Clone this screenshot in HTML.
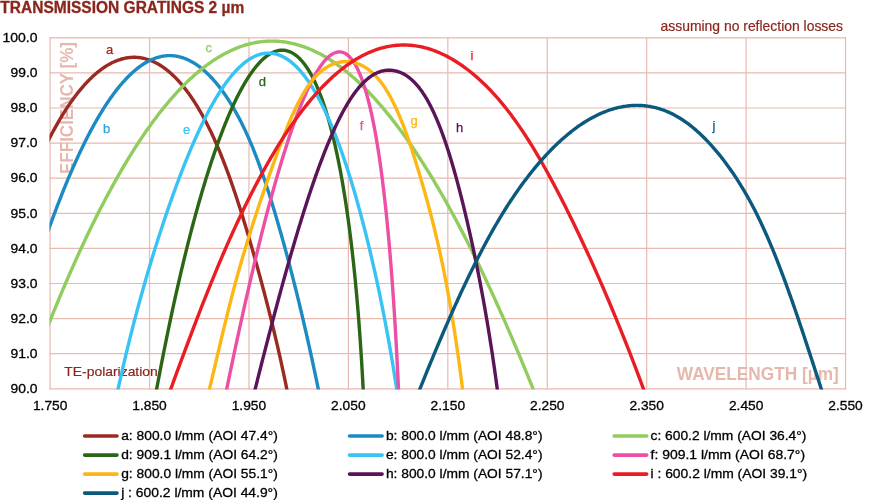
<!DOCTYPE html>
<html lang="en"><head><meta charset="utf-8"><title>Transmission Gratings 2 µm</title>
<style>
html,body{margin:0;padding:0;background:#fff;}
body{width:878px;height:500px;overflow:hidden;font-family:"Liberation Sans",sans-serif;}
svg{display:block;}
text{font-family:"Liberation Sans",sans-serif;}
.ax{font-size:13.3px;fill:#000;stroke:#000;stroke-width:0.3px;}
.lg{font-size:13.2px;fill:#000;stroke:#000;stroke-width:0.3px;}
.note{font-size:14.2px;fill:#8B271D;stroke:#8B271D;stroke-width:0.2px;}
.cl{font-size:13px;stroke-width:0.25px;}
.wm{font-size:17.5px;font-weight:bold;fill:#E6B8AD;}
.title{font-size:15.6px;font-weight:bold;fill:#8B261C;stroke:#8B261C;stroke-width:0.3px;}
.grid line{stroke:#E7BAB0;stroke-width:1.2;stroke-linecap:square;}
.curves path{fill:none;stroke-width:3.4;stroke-linecap:butt;stroke-linejoin:round;}
.sw line{stroke-width:3.6;stroke-linecap:round;}
</style></head><body>
<svg width="878" height="500" viewBox="0 0 878 500">
<rect width="878" height="500" fill="#fff"/>
<defs><clipPath id="plot"><rect x="49.50" y="35.80" width="796.64" height="353.60"/></clipPath></defs>
<text class="title" x="0.3" y="13.3" textLength="244" lengthAdjust="spacingAndGlyphs">TRANSMISSION GRATINGS 2 µm</text>
<g class="grid">
<line x1="50.10" y1="37.80" x2="50.10" y2="388.80"/>
<line x1="149.53" y1="37.80" x2="149.53" y2="388.80"/>
<line x1="248.96" y1="37.80" x2="248.96" y2="388.80"/>
<line x1="348.39" y1="37.80" x2="348.39" y2="388.80"/>
<line x1="447.82" y1="37.80" x2="447.82" y2="388.80"/>
<line x1="547.25" y1="37.80" x2="547.25" y2="388.80"/>
<line x1="646.68" y1="37.80" x2="646.68" y2="388.80"/>
<line x1="746.11" y1="37.80" x2="746.11" y2="388.80"/>
<line x1="845.54" y1="37.80" x2="845.54" y2="388.80"/>
<line x1="50.10" y1="37.80" x2="845.54" y2="37.80"/>
<line x1="50.10" y1="72.90" x2="845.54" y2="72.90"/>
<line x1="50.10" y1="108.00" x2="845.54" y2="108.00"/>
<line x1="50.10" y1="143.10" x2="845.54" y2="143.10"/>
<line x1="50.10" y1="178.20" x2="845.54" y2="178.20"/>
<line x1="50.10" y1="213.30" x2="845.54" y2="213.30"/>
<line x1="50.10" y1="248.40" x2="845.54" y2="248.40"/>
<line x1="50.10" y1="283.50" x2="845.54" y2="283.50"/>
<line x1="50.10" y1="318.60" x2="845.54" y2="318.60"/>
<line x1="50.10" y1="353.70" x2="845.54" y2="353.70"/>
<line x1="50.10" y1="388.80" x2="845.54" y2="388.80"/>
</g>
<text class="wm" transform="translate(73.2,174) rotate(-90)" textLength="132" lengthAdjust="spacingAndGlyphs">EFFICIENCY [%]</text>
<text class="wm" x="676.8" y="379.8" textLength="162" lengthAdjust="spacingAndGlyphs">WAVELENGTH [µm]</text>
<text class="note" x="660.5" y="30.8" textLength="182.5" lengthAdjust="spacingAndGlyphs">assuming no reflection losses</text>
<text class="note" style="font-size:13.4px" x="64.3" y="375.8" textLength="93.5" lengthAdjust="spacingAndGlyphs">TE-polarization</text>
<g class="curves" clip-path="url(#plot)">
<path stroke="#9B2A22" d="M45.46,145.85 L50.12,137.00 L50.95,135.39 L51.79,133.79 L52.63,132.21 L53.47,130.65 L54.32,129.10 L55.16,127.57 L56.00,126.06 L56.84,124.56 L57.69,123.08 L58.53,121.62 L59.38,120.17 L60.22,118.74 L61.07,117.33 L61.91,115.93 L62.76,114.55 L63.61,113.18 L64.46,111.83 L65.30,110.50 L66.15,109.19 L67.00,107.89 L67.85,106.60 L68.70,105.34 L69.55,104.09 L70.41,102.86 L71.26,101.64 L72.11,100.44 L72.96,99.25 L73.82,98.09 L74.67,96.94 L75.52,95.80 L76.38,94.68 L77.23,93.58 L78.08,92.50 L78.94,91.43 L79.79,90.38 L80.65,89.34 L81.51,88.32 L82.36,87.32 L83.22,86.33 L84.07,85.36 L84.93,84.41 L85.79,83.47 L86.65,82.55 L87.50,81.65 L88.36,80.76 L89.22,79.89 L90.08,79.04 L90.93,78.20 L91.79,77.38 L92.65,76.57 L93.51,75.78 L94.37,75.01 L95.23,74.26 L96.08,73.52 L96.94,72.79 L97.80,72.09 L98.66,71.40 L99.52,70.72 L100.38,70.07 L101.24,69.43 L102.09,68.80 L102.95,68.20 L103.81,67.61 L104.67,67.03 L105.53,66.47 L106.39,65.93 L107.24,65.41 L108.10,64.90 L108.96,64.41 L109.82,63.93 L110.68,63.47 L111.53,63.03 L112.39,62.60 L113.25,62.19 L114.11,61.80 L114.96,61.42 L115.82,61.06 L116.67,60.72 L117.53,60.39 L118.39,60.08 L119.24,59.79 L120.10,59.51 L120.95,59.25 L121.81,59.00 L122.66,58.77 L123.52,58.56 L124.37,58.37 L125.22,58.19 L126.08,58.02 L126.93,57.88 L127.78,57.75 L128.63,57.63 L129.49,57.54 L130.34,57.46 L131.19,57.39 L132.04,57.35 L132.89,57.32 L133.74,57.30 L134.59,57.30 L135.43,57.32 L136.28,57.36 L137.13,57.41 L137.98,57.48 L138.82,57.56 L139.67,57.66 L140.51,57.78 L141.36,57.91 L142.20,58.06 L143.05,58.23 L143.89,58.41 L144.73,58.61 L145.57,58.83 L146.41,59.06 L147.25,59.31 L148.09,59.58 L148.93,59.86 L149.77,60.16 L150.61,60.47 L151.44,60.80 L152.28,61.15 L153.11,61.52 L153.95,61.90 L154.78,62.29 L155.62,62.71 L156.45,63.14 L157.28,63.59 L158.11,64.05 L158.94,64.53 L159.77,65.03 L160.60,65.54 L161.42,66.07 L162.25,66.61 L163.07,67.17 L163.90,67.75 L164.72,68.35 L165.55,68.96 L166.37,69.59 L167.19,70.23 L168.01,70.89 L168.83,71.57 L169.64,72.26 L170.46,72.98 L171.28,73.70 L172.09,74.45 L172.91,75.21 L173.72,75.98 L174.53,76.77 L175.34,77.58 L176.15,78.41 L176.96,79.25 L177.77,80.11 L178.57,80.98 L179.38,81.88 L180.18,82.78 L180.98,83.71 L181.78,84.65 L182.59,85.61 L183.38,86.58 L184.18,87.57 L184.98,88.58 L185.77,89.60 L186.57,90.64 L187.36,91.70 L188.15,92.77 L188.94,93.86 L189.73,94.97 L190.52,96.09 L191.31,97.23 L192.09,98.38 L192.88,99.55 L193.66,100.74 L194.44,101.95 L195.22,103.17 L196.00,104.40 L196.78,105.66 L197.55,106.93 L198.33,108.22 L199.10,109.52 L199.87,110.84 L200.64,112.17 L201.41,113.53 L202.18,114.90 L202.94,116.28 L203.71,117.68 L204.47,119.10 L205.23,120.54 L205.99,121.99 L206.75,123.46 L207.50,124.94 L208.26,126.44 L209.01,127.96 L209.76,129.49 L210.51,131.05 L211.26,132.61 L212.01,134.20 L212.75,135.80 L213.49,137.41 L214.24,139.04 L214.98,140.69 L215.71,142.36 L216.45,144.04 L217.19,145.74 L217.92,147.46 L218.65,149.19 L219.38,150.94 L220.11,152.70 L220.84,154.48 L221.56,156.28 L222.29,158.09 L223.01,159.92 L223.73,161.77 L224.45,163.63 L225.17,165.51 L225.89,167.41 L226.61,169.32 L227.33,171.25 L228.04,173.20 L228.76,175.16 L229.47,177.14 L230.19,179.13 L230.90,181.14 L231.61,183.17 L232.32,185.22 L233.04,187.28 L233.75,189.36 L234.46,191.45 L235.17,193.56 L235.88,195.69 L236.59,197.83 L237.30,199.99 L238.01,202.17 L238.72,204.36 L239.43,206.57 L240.14,208.79 L240.85,211.04 L241.56,213.30 L242.27,215.57 L242.98,217.86 L243.69,220.17 L244.40,222.49 L245.11,224.84 L245.83,227.19 L246.54,229.57 L247.25,231.96 L247.97,234.36 L248.68,236.79 L249.40,239.23 L250.12,241.68 L250.83,244.16 L251.55,246.65 L252.27,249.15 L252.99,251.67 L253.71,254.21 L254.44,256.77 L255.16,259.34 L255.89,261.93 L256.61,264.53 L257.34,267.15 L258.07,269.79 L258.80,272.45 L259.53,275.12 L260.27,277.80 L261.00,280.51 L261.73,283.23 L262.47,285.96 L263.20,288.72 L263.94,291.48 L264.67,294.27 L265.41,297.07 L266.14,299.89 L266.88,302.73 L267.61,305.58 L268.34,308.45 L269.07,311.33 L269.81,314.23 L270.54,317.15 L271.27,320.08 L271.99,323.03 L272.72,326.00 L273.45,328.98 L274.17,331.98 L274.89,335.00 L275.61,338.03 L276.33,341.08 L277.04,344.15 L277.76,347.23 L278.47,350.33 L279.17,353.45 L279.88,356.58 L280.58,359.73 L281.28,362.89 L281.97,366.07 L282.67,369.27 L283.36,372.48 L284.04,375.71 L284.72,378.96 L285.40,382.22 L286.07,385.50 L286.74,388.80 L288.75,398.60"/>
<path stroke="#1C8AC3" d="M46.74,234.59 L50.17,225.20 L51.15,222.49 L52.13,219.79 L53.11,217.12 L54.09,214.48 L55.07,211.85 L56.05,209.25 L57.03,206.66 L58.01,204.10 L58.99,201.57 L59.97,199.05 L60.95,196.55 L61.93,194.08 L62.91,191.63 L63.89,189.20 L64.86,186.79 L65.84,184.41 L66.82,182.04 L67.79,179.70 L68.77,177.38 L69.74,175.09 L70.72,172.81 L71.69,170.56 L72.67,168.32 L73.64,166.11 L74.62,163.93 L75.59,161.76 L76.56,159.61 L77.53,157.49 L78.51,155.39 L79.48,153.31 L80.45,151.25 L81.42,149.22 L82.39,147.21 L83.36,145.21 L84.33,143.24 L85.30,141.30 L86.27,139.37 L87.24,137.47 L88.21,135.59 L89.18,133.73 L90.15,131.89 L91.11,130.07 L92.08,128.28 L93.05,126.50 L94.01,124.75 L94.98,123.02 L95.95,121.32 L96.91,119.63 L97.88,117.97 L98.84,116.33 L99.80,114.71 L100.77,113.11 L101.73,111.54 L102.70,109.98 L103.66,108.45 L104.62,106.94 L105.58,105.45 L106.54,103.99 L107.51,102.54 L108.47,101.12 L109.43,99.72 L110.39,98.34 L111.35,96.98 L112.31,95.65 L113.27,94.34 L114.23,93.04 L115.18,91.77 L116.14,90.53 L117.10,89.30 L118.06,88.10 L119.01,86.92 L119.97,85.76 L120.93,84.62 L121.88,83.50 L122.84,82.41 L123.79,81.34 L124.75,80.29 L125.70,79.26 L126.66,78.25 L127.61,77.27 L128.56,76.30 L129.52,75.36 L130.47,74.44 L131.42,73.55 L132.37,72.67 L133.33,71.82 L134.28,70.99 L135.23,70.18 L136.18,69.39 L137.13,68.62 L138.08,67.88 L139.03,67.16 L139.98,66.46 L140.93,65.78 L141.88,65.12 L142.82,64.49 L143.77,63.87 L144.72,63.28 L145.67,62.71 L146.61,62.17 L147.56,61.64 L148.50,61.14 L149.45,60.66 L150.40,60.20 L151.34,59.76 L152.28,59.34 L153.23,58.95 L154.17,58.58 L155.12,58.23 L156.06,57.90 L157.00,57.59 L157.94,57.31 L158.89,57.05 L159.83,56.81 L160.77,56.59 L161.71,56.39 L162.65,56.22 L163.59,56.06 L164.53,55.93 L165.47,55.82 L166.41,55.73 L167.35,55.67 L168.29,55.62 L169.22,55.60 L170.16,55.60 L171.10,55.62 L172.04,55.67 L172.97,55.73 L173.91,55.82 L174.85,55.93 L175.78,56.06 L176.72,56.22 L177.65,56.39 L178.59,56.59 L179.52,56.81 L180.45,57.05 L181.39,57.31 L182.32,57.59 L183.25,57.90 L184.19,58.23 L185.12,58.58 L186.05,58.95 L186.98,59.35 L187.91,59.76 L188.84,60.20 L189.77,60.66 L190.70,61.14 L191.63,61.64 L192.56,62.17 L193.49,62.72 L194.42,63.29 L195.35,63.88 L196.27,64.49 L197.20,65.12 L198.13,65.78 L199.06,66.46 L199.98,67.16 L200.91,67.88 L201.83,68.63 L202.76,69.39 L203.68,70.18 L204.61,70.99 L205.53,71.82 L206.46,72.67 L207.38,73.55 L208.30,74.45 L209.23,75.37 L210.15,76.31 L211.07,77.27 L211.99,78.26 L212.91,79.26 L213.83,80.29 L214.75,81.34 L215.67,82.41 L216.58,83.51 L217.50,84.62 L218.41,85.76 L219.33,86.92 L220.24,88.10 L221.15,89.31 L222.06,90.53 L222.97,91.78 L223.87,93.05 L224.78,94.34 L225.68,95.65 L226.58,96.99 L227.48,98.35 L228.38,99.72 L229.27,101.13 L230.17,102.55 L231.06,103.99 L231.95,105.46 L232.84,106.95 L233.72,108.46 L234.60,109.99 L235.48,111.54 L236.36,113.12 L237.24,114.72 L238.11,116.34 L238.98,117.98 L239.85,119.64 L240.71,121.33 L241.57,123.03 L242.43,124.76 L243.29,126.51 L244.14,128.28 L244.99,130.08 L245.84,131.90 L246.68,133.73 L247.52,135.59 L248.36,137.48 L249.19,139.38 L250.02,141.31 L250.85,143.25 L251.67,145.22 L252.49,147.21 L253.31,149.23 L254.12,151.26 L254.93,153.32 L255.74,155.40 L256.54,157.50 L257.34,159.62 L258.14,161.77 L258.94,163.93 L259.73,166.12 L260.53,168.33 L261.32,170.57 L262.11,172.82 L262.90,175.10 L263.68,177.39 L264.47,179.71 L265.25,182.06 L266.04,184.42 L266.82,186.80 L267.60,189.21 L268.38,191.64 L269.16,194.09 L269.94,196.57 L270.73,199.06 L271.51,201.58 L272.29,204.12 L273.07,206.68 L273.85,209.26 L274.64,211.86 L275.42,214.49 L276.20,217.14 L276.99,219.81 L277.78,222.50 L278.57,225.21 L279.35,227.95 L280.14,230.71 L280.93,233.48 L281.72,236.29 L282.52,239.11 L283.31,241.95 L284.10,244.82 L284.89,247.71 L285.69,250.62 L286.48,253.55 L287.28,256.51 L288.07,259.48 L288.87,262.48 L289.66,265.50 L290.46,268.54 L291.25,271.61 L292.05,274.69 L292.85,277.80 L293.64,280.93 L294.44,284.08 L295.24,287.26 L296.04,290.45 L296.83,293.67 L297.63,296.91 L298.43,300.17 L299.22,303.45 L300.02,306.75 L300.82,310.08 L301.62,313.43 L302.41,316.80 L303.21,320.19 L304.00,323.61 L304.80,327.04 L305.59,330.50 L306.39,333.98 L307.18,337.48 L307.98,341.00 L308.77,344.55 L309.56,348.12 L310.35,351.71 L311.15,355.32 L311.94,358.95 L312.73,362.60 L313.52,366.28 L314.30,369.98 L315.09,373.70 L315.88,377.44 L316.67,381.21 L317.45,384.99 L318.23,388.80 L320.26,398.59"/>
<path stroke="#90CC5E" d="M46.87,328.57 L50.64,319.30 L52.22,315.37 L53.80,311.47 L55.38,307.60 L56.97,303.76 L58.55,299.94 L60.13,296.16 L61.71,292.40 L63.29,288.66 L64.87,284.96 L66.45,281.28 L68.03,277.64 L69.60,274.02 L71.18,270.42 L72.76,266.86 L74.33,263.32 L75.91,259.81 L77.48,256.33 L79.06,252.88 L80.63,249.46 L82.21,246.06 L83.78,242.69 L85.35,239.35 L86.92,236.04 L88.49,232.75 L90.07,229.49 L91.64,226.26 L93.21,223.06 L94.78,219.89 L96.35,216.74 L97.92,213.63 L99.49,210.54 L101.05,207.47 L102.62,204.44 L104.19,201.43 L105.76,198.46 L107.33,195.51 L108.89,192.58 L110.46,189.69 L112.03,186.82 L113.59,183.98 L115.16,181.17 L116.72,178.39 L118.29,175.64 L119.85,172.91 L121.42,170.21 L122.98,167.54 L124.55,164.90 L126.11,162.28 L127.67,159.69 L129.24,157.14 L130.80,154.60 L132.36,152.10 L133.92,149.62 L135.49,147.18 L137.05,144.76 L138.61,142.37 L140.17,140.00 L141.74,137.67 L143.30,135.36 L144.86,133.08 L146.42,130.83 L147.98,128.60 L149.54,126.40 L151.10,124.24 L152.67,122.10 L154.23,119.98 L155.79,117.90 L157.35,115.84 L158.91,113.81 L160.47,111.81 L162.03,109.84 L163.59,107.89 L165.15,105.98 L166.71,104.09 L168.27,102.23 L169.83,100.39 L171.39,98.59 L172.95,96.81 L174.51,95.06 L176.08,93.34 L177.64,91.64 L179.20,89.98 L180.76,88.34 L182.32,86.73 L183.88,85.15 L185.44,83.59 L187.00,82.07 L188.56,80.57 L190.12,79.10 L191.68,77.65 L193.25,76.24 L194.81,74.85 L196.37,73.49 L197.93,72.16 L199.49,70.86 L201.05,69.59 L202.62,68.34 L204.18,67.12 L205.74,65.93 L207.30,64.76 L208.87,63.63 L210.43,62.52 L211.99,61.44 L213.56,60.39 L215.12,59.37 L216.69,58.37 L218.25,57.40 L219.81,56.46 L221.38,55.55 L222.94,54.67 L224.51,53.81 L226.08,52.98 L227.64,52.18 L229.21,51.41 L230.77,50.66 L232.34,49.95 L233.91,49.26 L235.48,48.60 L237.04,47.96 L238.61,47.36 L240.18,46.78 L241.75,46.23 L243.32,45.71 L244.89,45.22 L246.46,44.75 L248.03,44.31 L249.60,43.90 L251.17,43.52 L252.74,43.17 L254.32,42.84 L255.89,42.54 L257.46,42.27 L259.04,42.03 L260.61,41.82 L262.19,41.63 L263.76,41.47 L265.34,41.34 L266.91,41.24 L268.49,41.17 L270.07,41.12 L271.64,41.10 L273.22,41.11 L274.80,41.15 L276.38,41.21 L277.96,41.30 L279.54,41.43 L281.12,41.57 L282.70,41.75 L284.28,41.95 L285.87,42.19 L287.45,42.45 L289.03,42.74 L290.62,43.05 L292.20,43.40 L293.79,43.77 L295.38,44.17 L296.96,44.60 L298.55,45.05 L300.14,45.54 L301.73,46.05 L303.32,46.59 L304.91,47.15 L306.50,47.75 L308.09,48.37 L309.69,49.02 L311.28,49.70 L312.87,50.41 L314.47,51.15 L316.06,51.91 L317.66,52.70 L319.26,53.52 L320.86,54.36 L322.46,55.24 L324.05,56.14 L325.66,57.07 L327.26,58.03 L328.86,59.02 L330.46,60.03 L332.07,61.07 L333.67,62.14 L335.28,63.24 L336.88,64.37 L338.49,65.52 L340.10,66.70 L341.71,67.91 L343.32,69.15 L344.93,70.41 L346.54,71.71 L348.15,73.03 L349.76,74.38 L351.38,75.75 L352.99,77.16 L354.61,78.59 L356.23,80.05 L357.85,81.54 L359.46,83.06 L361.09,84.60 L362.71,86.18 L364.33,87.78 L365.95,89.40 L367.58,91.06 L369.20,92.74 L370.83,94.46 L372.46,96.20 L374.08,97.96 L375.71,99.76 L377.34,101.58 L378.98,103.44 L380.61,105.32 L382.24,107.22 L383.88,109.16 L385.51,111.12 L387.15,113.11 L388.79,115.13 L390.43,117.18 L392.07,119.25 L393.71,121.36 L395.35,123.49 L397.00,125.65 L398.64,127.83 L400.29,130.05 L401.94,132.29 L403.58,134.56 L405.23,136.86 L406.89,139.19 L408.54,141.54 L410.19,143.92 L411.85,146.33 L413.50,148.77 L415.16,151.24 L416.82,153.73 L418.48,156.25 L420.14,158.80 L421.80,161.38 L423.47,163.98 L425.13,166.62 L426.80,169.28 L428.47,171.97 L430.14,174.68 L431.81,177.43 L433.48,180.20 L435.15,183.00 L436.82,185.83 L438.50,188.69 L440.18,191.57 L441.86,194.49 L443.54,197.43 L445.22,200.39 L446.90,203.39 L448.59,206.42 L450.27,209.47 L451.96,212.55 L453.65,215.66 L455.34,218.79 L457.03,221.96 L458.72,225.15 L460.42,228.37 L462.11,231.61 L463.81,234.89 L465.51,238.19 L467.21,241.52 L468.91,244.88 L470.61,248.27 L472.32,251.69 L474.03,255.13 L475.73,258.60 L477.44,262.10 L479.16,265.62 L480.87,269.18 L482.58,272.76 L484.30,276.37 L486.02,280.01 L487.74,283.68 L489.46,287.37 L491.18,291.09 L492.90,294.84 L494.63,298.62 L496.36,302.43 L498.09,306.26 L499.82,310.12 L501.55,314.01 L503.28,317.93 L505.02,321.88 L506.76,325.85 L508.50,329.85 L510.24,333.88 L511.98,337.94 L513.72,342.02 L515.47,346.13 L517.22,350.28 L518.97,354.44 L520.72,358.64 L522.47,362.87 L524.23,367.12 L525.98,371.40 L527.74,375.71 L529.50,380.04 L531.27,384.41 L533.03,388.80 L536.77,398.07"/>
<path stroke="#2B6516" d="M154.84,398.63 L156.70,388.80 L157.54,384.29 L158.39,379.80 L159.24,375.35 L160.08,370.92 L160.93,366.53 L161.78,362.17 L162.63,357.83 L163.48,353.53 L164.34,349.26 L165.19,345.02 L166.04,340.81 L166.90,336.62 L167.75,332.47 L168.60,328.35 L169.46,324.26 L170.32,320.20 L171.17,316.17 L172.03,312.17 L172.89,308.20 L173.74,304.26 L174.60,300.36 L175.46,296.48 L176.32,292.63 L177.18,288.81 L178.04,285.02 L178.90,281.27 L179.76,277.54 L180.62,273.84 L181.49,270.18 L182.35,266.54 L183.21,262.94 L184.07,259.36 L184.93,255.82 L185.80,252.30 L186.66,248.82 L187.52,245.36 L188.39,241.94 L189.25,238.55 L190.11,235.18 L190.98,231.85 L191.84,228.55 L192.71,225.27 L193.57,222.03 L194.43,218.82 L195.30,215.64 L196.16,212.49 L197.03,209.37 L197.89,206.28 L198.75,203.22 L199.62,200.19 L200.48,197.19 L201.34,194.22 L202.21,191.28 L203.07,188.37 L203.94,185.49 L204.80,182.64 L205.66,179.82 L206.52,177.04 L207.39,174.28 L208.25,171.55 L209.11,168.86 L209.97,166.19 L210.83,163.55 L211.69,160.95 L212.56,158.37 L213.42,155.83 L214.28,153.31 L215.14,150.83 L215.99,148.37 L216.85,145.95 L217.71,143.56 L218.57,141.19 L219.43,138.86 L220.28,136.56 L221.14,134.28 L222.00,132.04 L222.85,129.83 L223.71,127.65 L224.56,125.50 L225.41,123.38 L226.27,121.29 L227.12,119.23 L227.97,117.20 L228.82,115.20 L229.67,113.23 L230.52,111.29 L231.37,109.38 L232.22,107.50 L233.06,105.65 L233.91,103.83 L234.76,102.05 L235.60,100.29 L236.44,98.56 L237.29,96.86 L238.13,95.20 L238.97,93.56 L239.81,91.96 L240.65,90.38 L241.49,88.84 L242.33,87.32 L243.16,85.84 L244.00,84.38 L244.83,82.96 L245.67,81.56 L246.50,80.20 L247.33,78.87 L248.16,77.56 L248.99,76.29 L249.82,75.05 L250.64,73.84 L251.47,72.66 L252.29,71.50 L253.12,70.38 L253.94,69.29 L254.76,68.23 L255.58,67.20 L256.40,66.20 L257.21,65.23 L258.03,64.29 L258.84,63.38 L259.65,62.51 L260.47,61.66 L261.28,60.84 L262.08,60.05 L262.89,59.29 L263.70,58.57 L264.50,57.87 L265.30,57.20 L266.11,56.57 L266.91,55.96 L267.70,55.38 L268.50,54.84 L269.30,54.32 L270.09,53.84 L270.88,53.39 L271.67,52.96 L272.46,52.57 L273.25,52.20 L274.03,51.87 L274.82,51.57 L275.60,51.29 L276.38,51.05 L277.16,50.84 L277.93,50.66 L278.71,50.51 L279.48,50.39 L280.25,50.29 L281.02,50.23 L281.79,50.20 L282.55,50.20 L283.32,50.23 L284.08,50.29 L284.84,50.39 L285.60,50.51 L286.35,50.66 L287.11,50.84 L287.86,51.05 L288.61,51.29 L289.36,51.57 L290.10,51.87 L290.85,52.20 L291.59,52.57 L292.33,52.96 L293.06,53.39 L293.80,53.84 L294.53,54.32 L295.26,54.84 L295.99,55.38 L296.71,55.96 L297.44,56.57 L298.16,57.20 L298.88,57.87 L299.59,58.57 L300.31,59.29 L301.02,60.05 L301.73,60.84 L302.44,61.66 L303.14,62.51 L303.84,63.38 L304.54,64.29 L305.24,65.23 L305.93,66.20 L306.62,67.20 L307.31,68.23 L308.00,69.29 L308.68,70.38 L309.36,71.50 L310.04,72.66 L310.71,73.84 L311.38,75.05 L312.05,76.29 L312.72,77.56 L313.38,78.87 L314.05,80.20 L314.70,81.56 L315.36,82.96 L316.01,84.38 L316.66,85.84 L317.31,87.32 L317.95,88.84 L318.59,90.38 L319.23,91.96 L319.86,93.56 L320.49,95.20 L321.12,96.86 L321.75,98.56 L322.37,100.29 L322.99,102.05 L323.60,103.83 L324.21,105.65 L324.82,107.50 L325.43,109.38 L326.03,111.29 L326.63,113.23 L327.23,115.20 L327.82,117.20 L328.41,119.23 L328.99,121.29 L329.58,123.38 L330.16,125.50 L330.73,127.65 L331.30,129.83 L331.87,132.04 L332.44,134.28 L333.00,136.56 L333.56,138.86 L334.11,141.19 L334.66,143.56 L335.21,145.95 L335.75,148.37 L336.29,150.83 L336.83,153.31 L337.36,155.83 L337.89,158.37 L338.41,160.95 L338.94,163.55 L339.45,166.19 L339.97,168.86 L340.48,171.55 L340.98,174.28 L341.48,177.04 L341.98,179.82 L342.48,182.64 L342.97,185.49 L343.45,188.37 L343.93,191.28 L344.41,194.22 L344.89,197.19 L345.36,200.19 L345.82,203.22 L346.28,206.28 L346.74,209.37 L347.19,212.49 L347.64,215.64 L348.09,218.82 L348.53,222.03 L348.96,225.27 L349.40,228.55 L349.82,231.85 L350.25,235.18 L350.67,238.55 L351.08,241.94 L351.49,245.36 L351.90,248.82 L352.30,252.30 L352.70,255.82 L353.09,259.36 L353.48,262.94 L353.86,266.54 L354.24,270.18 L354.62,273.84 L354.99,277.54 L355.35,281.27 L355.71,285.02 L356.07,288.81 L356.42,292.63 L356.77,296.48 L357.11,300.36 L357.45,304.26 L357.78,308.20 L358.11,312.17 L358.43,316.17 L358.75,320.20 L359.06,324.26 L359.37,328.35 L359.67,332.47 L359.97,336.62 L360.26,340.81 L360.55,345.02 L360.84,349.26 L361.12,353.53 L361.39,357.83 L361.66,362.17 L361.92,366.53 L362.18,370.92 L362.43,375.35 L362.68,379.80 L362.92,384.29 L363.16,388.80 L363.70,398.79"/>
<path stroke="#38C3F5" d="M115.94,398.56 L118.11,388.80 L119.10,384.32 L120.09,379.88 L121.09,375.46 L122.09,371.08 L123.09,366.72 L124.10,362.39 L125.12,358.10 L126.14,353.83 L127.16,349.60 L128.18,345.39 L129.21,341.22 L130.25,337.07 L131.28,332.96 L132.32,328.87 L133.36,324.81 L134.41,320.79 L135.46,316.79 L136.51,312.83 L137.56,308.89 L138.62,304.99 L139.68,301.11 L140.74,297.27 L141.80,293.45 L142.86,289.67 L143.93,285.91 L144.99,282.19 L146.06,278.49 L147.13,274.83 L148.20,271.19 L149.26,267.59 L150.33,264.01 L151.41,260.47 L152.48,256.95 L153.55,253.47 L154.62,250.02 L155.69,246.59 L156.76,243.20 L157.83,239.83 L158.90,236.50 L159.97,233.19 L161.03,229.92 L162.10,226.67 L163.16,223.46 L164.23,220.28 L165.29,217.12 L166.35,214.00 L167.40,210.90 L168.46,207.84 L169.51,204.81 L170.57,201.80 L171.62,198.83 L172.66,195.88 L173.71,192.97 L174.75,190.09 L175.80,187.23 L176.84,184.41 L177.88,181.61 L178.91,178.85 L179.95,176.12 L180.98,173.41 L182.01,170.74 L183.04,168.10 L184.07,165.48 L185.10,162.90 L186.13,160.35 L187.15,157.82 L188.17,155.33 L189.19,152.87 L190.21,150.43 L191.23,148.03 L192.24,145.66 L193.26,143.31 L194.27,141.00 L195.28,138.72 L196.29,136.46 L197.30,134.24 L198.31,132.05 L199.32,129.89 L200.32,127.75 L201.32,125.65 L202.33,123.58 L203.33,121.53 L204.33,119.52 L205.33,117.54 L206.32,115.59 L207.32,113.66 L208.31,111.77 L209.31,109.91 L210.30,108.08 L211.29,106.27 L212.28,104.50 L213.27,102.76 L214.26,101.05 L215.25,99.37 L216.23,97.71 L217.22,96.09 L218.20,94.50 L219.18,92.94 L220.17,91.40 L221.15,89.90 L222.13,88.43 L223.11,86.99 L224.08,85.58 L225.06,84.20 L226.04,82.84 L227.01,81.52 L227.98,80.23 L228.96,78.97 L229.93,77.74 L230.90,76.53 L231.87,75.36 L232.84,74.22 L233.80,73.11 L234.77,72.03 L235.74,70.98 L236.70,69.96 L237.67,68.96 L238.63,68.00 L239.59,67.07 L240.55,66.17 L241.51,65.30 L242.47,64.46 L243.43,63.65 L244.39,62.87 L245.34,62.12 L246.30,61.39 L247.25,60.70 L248.21,60.04 L249.16,59.41 L250.11,58.81 L251.06,58.24 L252.01,57.70 L252.96,57.19 L253.91,56.71 L254.86,56.26 L255.81,55.84 L256.75,55.45 L257.70,55.09 L258.64,54.76 L259.59,54.46 L260.53,54.19 L261.47,53.94 L262.41,53.73 L263.36,53.55 L264.29,53.40 L265.23,53.28 L266.17,53.19 L267.11,53.13 L268.05,53.10 L268.98,53.10 L269.92,53.13 L270.85,53.19 L271.79,53.28 L272.72,53.40 L273.65,53.55 L274.58,53.73 L275.51,53.94 L276.44,54.19 L277.37,54.46 L278.30,54.76 L279.23,55.09 L280.16,55.45 L281.08,55.84 L282.01,56.26 L282.93,56.71 L283.86,57.19 L284.78,57.70 L285.70,58.24 L286.62,58.81 L287.54,59.41 L288.46,60.04 L289.38,60.70 L290.30,61.39 L291.21,62.12 L292.13,62.87 L293.05,63.65 L293.96,64.46 L294.87,65.30 L295.79,66.17 L296.70,67.07 L297.61,68.00 L298.52,68.96 L299.43,69.96 L300.34,70.98 L301.24,72.03 L302.15,73.11 L303.06,74.22 L303.96,75.36 L304.86,76.53 L305.77,77.74 L306.67,78.97 L307.57,80.23 L308.47,81.52 L309.37,82.84 L310.27,84.20 L311.16,85.58 L312.06,86.99 L312.96,88.43 L313.85,89.90 L314.74,91.40 L315.64,92.94 L316.53,94.50 L317.42,96.09 L318.31,97.71 L319.20,99.37 L320.09,101.05 L320.97,102.76 L321.86,104.50 L322.74,106.27 L323.63,108.08 L324.51,109.91 L325.39,111.77 L326.27,113.66 L327.15,115.59 L328.03,117.54 L328.91,119.52 L329.78,121.53 L330.66,123.58 L331.53,125.65 L332.41,127.75 L333.28,129.89 L334.15,132.05 L335.02,134.24 L335.89,136.46 L336.76,138.72 L337.63,141.00 L338.49,143.31 L339.36,145.66 L340.22,148.03 L341.09,150.43 L341.95,152.87 L342.81,155.33 L343.67,157.82 L344.53,160.35 L345.38,162.90 L346.24,165.48 L347.09,168.10 L347.95,170.74 L348.80,173.41 L349.65,176.12 L350.50,178.85 L351.35,181.61 L352.20,184.41 L353.05,187.23 L353.90,190.09 L354.74,192.97 L355.58,195.88 L356.43,198.83 L357.27,201.80 L358.11,204.81 L358.95,207.84 L359.79,210.90 L360.62,214.00 L361.46,217.12 L362.29,220.28 L363.13,223.46 L363.96,226.67 L364.79,229.92 L365.62,233.19 L366.45,236.50 L367.28,239.83 L368.10,243.20 L368.93,246.59 L369.75,250.02 L370.57,253.47 L371.39,256.95 L372.21,260.47 L373.03,264.01 L373.84,267.59 L374.66,271.19 L375.47,274.83 L376.28,278.49 L377.08,282.19 L377.89,285.91 L378.69,289.67 L379.49,293.45 L380.28,297.27 L381.07,301.11 L381.86,304.99 L382.64,308.89 L383.42,312.83 L384.20,316.79 L384.97,320.79 L385.74,324.81 L386.50,328.87 L387.26,332.96 L388.02,337.07 L388.76,341.22 L389.51,345.39 L390.25,349.60 L390.98,353.83 L391.71,358.10 L392.43,362.39 L393.15,366.72 L393.86,371.08 L394.56,375.46 L395.26,379.88 L395.95,384.32 L396.64,388.80 L398.17,398.68"/>
<path stroke="#EC4FA3" d="M224.76,398.59 L226.78,388.80 L227.70,384.31 L228.63,379.85 L229.55,375.41 L230.46,371.01 L231.38,366.64 L232.29,362.30 L233.20,357.99 L234.11,353.71 L235.02,349.46 L235.92,345.24 L236.82,341.05 L237.72,336.89 L238.62,332.76 L239.51,328.66 L240.40,324.59 L241.29,320.55 L242.18,316.54 L243.07,312.56 L243.95,308.61 L244.83,304.69 L245.71,300.80 L246.59,296.94 L247.46,293.11 L248.34,289.31 L249.21,285.55 L250.07,281.81 L250.94,278.10 L251.80,274.42 L252.66,270.77 L253.52,267.16 L254.38,263.57 L255.23,260.01 L256.08,256.48 L256.93,252.99 L257.78,249.52 L258.62,246.08 L259.47,242.68 L260.31,239.30 L261.14,235.95 L261.98,232.64 L262.81,229.35 L263.64,226.09 L264.47,222.87 L265.30,219.67 L266.12,216.51 L266.95,213.37 L267.77,210.27 L268.58,207.19 L269.40,204.15 L270.21,201.13 L271.02,198.15 L271.83,195.19 L272.64,192.27 L273.44,189.38 L274.24,186.51 L275.04,183.68 L275.84,180.87 L276.63,178.10 L277.42,175.36 L278.21,172.64 L279.00,169.96 L279.79,167.31 L280.57,164.68 L281.35,162.09 L282.13,159.53 L282.90,157.00 L283.68,154.50 L284.45,152.02 L285.22,149.58 L285.99,147.17 L286.75,144.79 L287.51,142.44 L288.27,140.11 L289.03,137.82 L289.78,135.56 L290.54,133.33 L291.29,131.13 L292.04,128.96 L292.78,126.82 L293.53,124.71 L294.27,122.63 L295.01,120.58 L295.74,118.56 L296.48,116.57 L297.21,114.61 L297.94,112.68 L298.66,110.78 L299.39,108.91 L300.11,107.07 L300.83,105.26 L301.55,103.49 L302.27,101.74 L302.98,100.02 L303.69,98.33 L304.40,96.67 L305.11,95.04 L305.81,93.45 L306.51,91.88 L307.21,90.34 L307.91,88.83 L308.60,87.36 L309.29,85.91 L309.98,84.49 L310.67,83.11 L311.36,81.75 L312.04,80.42 L312.72,79.13 L313.40,77.86 L314.07,76.62 L314.75,75.42 L315.42,74.24 L316.09,73.10 L316.75,71.98 L317.42,70.90 L318.08,69.84 L318.74,68.82 L319.39,67.82 L320.05,66.86 L320.70,65.92 L321.35,65.02 L322.00,64.14 L322.64,63.30 L323.28,62.49 L323.92,61.70 L324.56,60.95 L325.20,60.22 L325.83,59.53 L326.46,58.87 L327.09,58.23 L327.72,57.63 L328.34,57.06 L328.96,56.52 L329.58,56.00 L330.20,55.52 L330.81,55.07 L331.42,54.65 L332.03,54.26 L332.64,53.89 L333.24,53.56 L333.84,53.26 L334.44,52.99 L335.04,52.75 L335.64,52.54 L336.23,52.36 L336.82,52.21 L337.41,52.08 L337.99,51.99 L338.57,51.93 L339.16,51.90 L339.73,51.90 L340.31,51.93 L340.88,51.99 L341.45,52.08 L342.02,52.21 L342.59,52.36 L343.15,52.54 L343.71,52.75 L344.27,52.99 L344.83,53.26 L345.38,53.56 L345.93,53.89 L346.48,54.26 L347.03,54.65 L347.58,55.07 L348.12,55.52 L348.66,56.00 L349.19,56.52 L349.73,57.06 L350.26,57.63 L350.79,58.23 L351.32,58.87 L351.84,59.53 L352.37,60.22 L352.89,60.95 L353.41,61.70 L353.92,62.49 L354.43,63.30 L354.94,64.14 L355.45,65.02 L355.96,65.92 L356.46,66.86 L356.96,67.82 L357.46,68.82 L357.96,69.84 L358.45,70.90 L358.94,71.98 L359.43,73.10 L359.92,74.24 L360.40,75.42 L360.88,76.62 L361.36,77.86 L361.84,79.13 L362.31,80.42 L362.78,81.75 L363.25,83.11 L363.72,84.49 L364.18,85.91 L364.64,87.36 L365.10,88.83 L365.56,90.34 L366.02,91.88 L366.47,93.45 L366.92,95.04 L367.36,96.67 L367.81,98.33 L368.25,100.02 L368.69,101.74 L369.13,103.49 L369.56,105.26 L369.99,107.07 L370.42,108.91 L370.85,110.78 L371.28,112.68 L371.70,114.61 L372.12,116.57 L372.54,118.56 L372.95,120.58 L373.36,122.63 L373.77,124.71 L374.18,126.82 L374.59,128.96 L374.99,131.13 L375.39,133.33 L375.79,135.56 L376.18,137.82 L376.58,140.11 L376.97,142.44 L377.35,144.79 L377.74,147.17 L378.12,149.58 L378.50,152.02 L378.88,154.50 L379.26,157.00 L379.63,159.53 L380.00,162.09 L380.37,164.68 L380.73,167.31 L381.10,169.96 L381.46,172.64 L381.81,175.36 L382.17,178.10 L382.52,180.87 L382.87,183.68 L383.22,186.51 L383.57,189.38 L383.91,192.27 L384.25,195.19 L384.59,198.15 L384.92,201.13 L385.26,204.15 L385.59,207.19 L385.92,210.27 L386.24,213.37 L386.56,216.51 L386.88,219.67 L387.20,222.87 L387.52,226.09 L387.83,229.35 L388.14,232.64 L388.45,235.95 L388.75,239.30 L389.06,242.68 L389.36,246.08 L389.66,249.52 L389.95,252.99 L390.24,256.48 L390.53,260.01 L390.82,263.57 L391.11,267.16 L391.39,270.77 L391.67,274.42 L391.95,278.10 L392.22,281.81 L392.49,285.55 L392.76,289.31 L393.03,293.11 L393.30,296.94 L393.56,300.80 L393.82,304.69 L394.08,308.61 L394.33,312.56 L394.58,316.54 L394.83,320.55 L395.08,324.59 L395.33,328.66 L395.57,332.76 L395.81,336.89 L396.04,341.05 L396.28,345.24 L396.51,349.46 L396.74,353.71 L396.97,357.99 L397.19,362.30 L397.41,366.64 L397.63,371.01 L397.85,375.41 L398.06,379.85 L398.27,384.31 L398.48,388.80 L398.96,398.79"/>
<path stroke="#FDB714" d="M207.22,398.53 L209.52,388.80 L210.55,384.44 L211.58,380.10 L212.59,375.80 L213.60,371.53 L214.60,367.28 L215.60,363.06 L216.59,358.88 L217.57,354.72 L218.55,350.59 L219.52,346.49 L220.49,342.42 L221.46,338.38 L222.42,334.37 L223.38,330.39 L224.34,326.44 L225.29,322.51 L226.25,318.62 L227.20,314.75 L228.16,310.92 L229.11,307.11 L230.07,303.33 L231.03,299.59 L231.99,295.87 L232.95,292.18 L233.91,288.52 L234.88,284.89 L235.85,281.29 L236.83,277.71 L237.81,274.17 L238.79,270.66 L239.78,267.17 L240.77,263.72 L241.76,260.29 L242.75,256.90 L243.74,253.53 L244.74,250.19 L245.74,246.88 L246.73,243.60 L247.73,240.35 L248.73,237.13 L249.72,233.94 L250.72,230.78 L251.71,227.65 L252.70,224.54 L253.69,221.47 L254.68,218.42 L255.67,215.41 L256.65,212.42 L257.63,209.46 L258.60,206.54 L259.57,203.64 L260.54,200.77 L261.50,197.93 L262.46,195.12 L263.41,192.34 L264.36,189.58 L265.30,186.86 L266.23,184.17 L267.16,181.50 L268.07,178.87 L268.99,176.26 L269.89,173.68 L270.79,171.14 L271.68,168.62 L272.56,166.13 L273.44,163.67 L274.31,161.24 L275.17,158.84 L276.03,156.47 L276.89,154.13 L277.73,151.81 L278.58,149.53 L279.41,147.27 L280.25,145.05 L281.08,142.85 L281.90,140.69 L282.72,138.55 L283.54,136.44 L284.36,134.36 L285.17,132.31 L285.98,130.29 L286.78,128.30 L287.59,126.34 L288.39,124.41 L289.19,122.50 L289.98,120.63 L290.78,118.79 L291.57,116.97 L292.37,115.18 L293.16,113.43 L293.95,111.70 L294.74,110.00 L295.54,108.33 L296.33,106.69 L297.12,105.08 L297.91,103.50 L298.71,101.95 L299.50,100.43 L300.30,98.93 L301.10,97.47 L301.90,96.04 L302.70,94.63 L303.50,93.25 L304.31,91.91 L305.12,90.59 L305.93,89.30 L306.75,88.04 L307.57,86.81 L308.39,85.61 L309.22,84.44 L310.05,83.30 L310.89,82.19 L311.73,81.10 L312.57,80.05 L313.42,79.02 L314.28,78.03 L315.14,77.06 L316.01,76.13 L316.88,75.22 L317.76,74.34 L318.65,73.49 L319.54,72.67 L320.44,71.88 L321.35,71.12 L322.26,70.39 L323.18,69.68 L324.11,69.01 L325.04,68.37 L325.97,67.75 L326.91,67.17 L327.86,66.61 L328.81,66.08 L329.77,65.59 L330.73,65.12 L331.69,64.68 L332.66,64.27 L333.63,63.89 L334.60,63.54 L335.58,63.21 L336.56,62.92 L337.54,62.66 L338.52,62.42 L339.51,62.22 L340.50,62.04 L341.49,61.90 L342.48,61.78 L343.47,61.69 L344.46,61.63 L345.45,61.60 L346.44,61.60 L347.43,61.63 L348.43,61.69 L349.42,61.78 L350.41,61.90 L351.40,62.04 L352.38,62.22 L353.37,62.42 L354.35,62.66 L355.33,62.92 L356.31,63.21 L357.29,63.54 L358.26,63.89 L359.24,64.27 L360.20,64.68 L361.17,65.12 L362.13,65.59 L363.08,66.08 L364.03,66.61 L364.98,67.17 L365.92,67.75 L366.86,68.37 L367.79,69.01 L368.71,69.68 L369.63,70.39 L370.55,71.12 L371.45,71.88 L372.36,72.67 L373.25,73.49 L374.14,74.34 L375.02,75.22 L375.89,76.13 L376.76,77.06 L377.62,78.03 L378.47,79.02 L379.32,80.05 L380.16,81.10 L381.00,82.19 L381.83,83.30 L382.66,84.44 L383.48,85.61 L384.30,86.81 L385.11,88.04 L385.92,89.30 L386.72,90.59 L387.52,91.91 L388.32,93.25 L389.11,94.63 L389.89,96.04 L390.68,97.47 L391.46,98.93 L392.23,100.43 L393.01,101.95 L393.78,103.50 L394.54,105.08 L395.31,106.69 L396.07,108.33 L396.83,110.00 L397.59,111.70 L398.34,113.43 L399.10,115.18 L399.85,116.97 L400.60,118.79 L401.35,120.63 L402.10,122.50 L402.85,124.41 L403.59,126.34 L404.34,128.30 L405.08,130.29 L405.83,132.31 L406.57,134.36 L407.31,136.44 L408.06,138.55 L408.80,140.69 L409.55,142.85 L410.29,145.05 L411.04,147.27 L411.79,149.53 L412.53,151.81 L413.28,154.13 L414.03,156.47 L414.79,158.84 L415.54,161.24 L416.30,163.67 L417.05,166.13 L417.81,168.62 L418.58,171.14 L419.34,173.68 L420.11,176.26 L420.88,178.87 L421.65,181.50 L422.43,184.17 L423.20,186.86 L423.98,189.58 L424.76,192.34 L425.55,195.12 L426.33,197.93 L427.11,200.77 L427.89,203.64 L428.68,206.54 L429.46,209.46 L430.24,212.42 L431.02,215.41 L431.80,218.42 L432.57,221.47 L433.35,224.54 L434.12,227.65 L434.89,230.78 L435.65,233.94 L436.41,237.13 L437.17,240.35 L437.92,243.60 L438.67,246.88 L439.41,250.19 L440.15,253.53 L440.88,256.90 L441.60,260.29 L442.32,263.72 L443.04,267.17 L443.75,270.66 L444.45,274.17 L445.15,277.71 L445.84,281.29 L446.53,284.89 L447.21,288.52 L447.89,292.18 L448.56,295.87 L449.23,299.59 L449.89,303.33 L450.55,307.11 L451.20,310.92 L451.84,314.75 L452.48,318.62 L453.11,322.51 L453.74,326.44 L454.37,330.39 L454.98,334.37 L455.60,338.38 L456.20,342.42 L456.80,346.49 L457.40,350.59 L457.99,354.72 L458.58,358.88 L459.16,363.06 L459.73,367.28 L460.30,371.53 L460.86,375.80 L461.42,380.10 L461.97,384.44 L462.52,388.80 L463.79,398.72"/>
<path stroke="#5A1458" d="M252.79,398.50 L255.23,388.80 L256.30,384.55 L257.36,380.33 L258.41,376.14 L259.47,371.98 L260.52,367.85 L261.56,363.74 L262.60,359.66 L263.64,355.61 L264.67,351.59 L265.70,347.60 L266.72,343.64 L267.74,339.71 L268.75,335.80 L269.77,331.92 L270.77,328.07 L271.78,324.25 L272.78,320.46 L273.78,316.70 L274.77,312.96 L275.76,309.26 L276.74,305.58 L277.73,301.93 L278.70,298.31 L279.68,294.72 L280.65,291.15 L281.62,287.62 L282.58,284.11 L283.54,280.63 L284.50,277.18 L285.46,273.76 L286.41,270.37 L287.36,267.01 L288.30,263.67 L289.24,260.36 L290.18,257.08 L291.12,253.83 L292.05,250.61 L292.98,247.42 L293.91,244.26 L294.83,241.12 L295.76,238.01 L296.67,234.93 L297.59,231.88 L298.50,228.86 L299.41,225.87 L300.32,222.90 L301.23,219.97 L302.13,217.06 L303.03,214.18 L303.92,211.33 L304.82,208.50 L305.71,205.71 L306.60,202.94 L307.49,200.21 L308.38,197.50 L309.26,194.82 L310.14,192.17 L311.02,189.55 L311.90,186.95 L312.77,184.39 L313.64,181.85 L314.52,179.34 L315.39,176.86 L316.25,174.41 L317.12,171.98 L317.98,169.59 L318.84,167.22 L319.71,164.88 L320.56,162.58 L321.42,160.29 L322.28,158.04 L323.13,155.82 L323.99,153.62 L324.84,151.46 L325.69,149.32 L326.54,147.21 L327.39,145.13 L328.23,143.07 L329.08,141.05 L329.93,139.05 L330.77,137.09 L331.61,135.15 L332.46,133.24 L333.30,131.36 L334.14,129.50 L334.98,127.68 L335.82,125.88 L336.66,124.12 L337.49,122.38 L338.33,120.67 L339.17,118.98 L340.01,117.33 L340.84,115.71 L341.68,114.11 L342.51,112.54 L343.35,111.00 L344.18,109.49 L345.02,108.01 L345.85,106.55 L346.69,105.13 L347.52,103.73 L348.36,102.36 L349.20,101.02 L350.03,99.71 L350.87,98.43 L351.70,97.17 L352.54,95.95 L353.37,94.75 L354.21,93.58 L355.05,92.44 L355.89,91.33 L356.72,90.25 L357.56,89.19 L358.40,88.16 L359.24,87.17 L360.08,86.20 L360.93,85.26 L361.77,84.34 L362.61,83.46 L363.46,82.61 L364.30,81.78 L365.15,80.98 L366.00,80.21 L366.85,79.47 L367.70,78.76 L368.55,78.07 L369.40,77.42 L370.25,76.79 L371.11,76.19 L371.97,75.62 L372.82,75.08 L373.68,74.57 L374.55,74.08 L375.41,73.62 L376.27,73.20 L377.14,72.80 L378.01,72.43 L378.88,72.09 L379.75,71.77 L380.62,71.49 L381.50,71.23 L382.38,71.00 L383.26,70.80 L384.14,70.63 L385.02,70.49 L385.91,70.37 L386.80,70.29 L387.69,70.23 L388.58,70.20 L389.48,70.20 L390.38,70.23 L391.28,70.29 L392.18,70.37 L393.08,70.49 L393.98,70.63 L394.88,70.80 L395.78,71.00 L396.68,71.23 L397.58,71.49 L398.47,71.77 L399.37,72.09 L400.25,72.43 L401.14,72.80 L402.02,73.20 L402.89,73.62 L403.76,74.08 L404.63,74.57 L405.49,75.08 L406.35,75.62 L407.20,76.19 L408.05,76.79 L408.89,77.42 L409.73,78.07 L410.57,78.76 L411.40,79.47 L412.22,80.21 L413.04,80.98 L413.86,81.78 L414.67,82.61 L415.48,83.46 L416.29,84.34 L417.09,85.26 L417.88,86.20 L418.67,87.17 L419.46,88.16 L420.24,89.19 L421.02,90.25 L421.80,91.33 L422.57,92.44 L423.34,93.58 L424.10,94.75 L424.86,95.95 L425.62,97.17 L426.37,98.43 L427.12,99.71 L427.87,101.02 L428.61,102.36 L429.35,103.73 L430.08,105.13 L430.82,106.55 L431.55,108.01 L432.28,109.49 L433.00,111.00 L433.73,112.54 L434.45,114.11 L435.17,115.71 L435.88,117.33 L436.60,118.98 L437.31,120.67 L438.02,122.38 L438.72,124.12 L439.43,125.88 L440.13,127.68 L440.83,129.50 L441.53,131.36 L442.23,133.24 L442.93,135.15 L443.62,137.09 L444.32,139.05 L445.01,141.05 L445.70,143.07 L446.39,145.13 L447.08,147.21 L447.76,149.32 L448.45,151.46 L449.13,153.62 L449.82,155.82 L450.50,158.04 L451.18,160.29 L451.86,162.58 L452.55,164.88 L453.23,167.22 L453.91,169.59 L454.58,171.98 L455.26,174.41 L455.94,176.86 L456.62,179.34 L457.30,181.85 L457.98,184.39 L458.65,186.95 L459.33,189.55 L460.01,192.17 L460.69,194.82 L461.37,197.50 L462.05,200.21 L462.73,202.94 L463.41,205.71 L464.09,208.50 L464.77,211.33 L465.45,214.18 L466.13,217.06 L466.81,219.97 L467.50,222.90 L468.18,225.87 L468.86,228.86 L469.55,231.88 L470.23,234.93 L470.92,238.01 L471.60,241.12 L472.28,244.26 L472.96,247.42 L473.64,250.61 L474.32,253.83 L475.00,257.08 L475.68,260.36 L476.36,263.67 L477.04,267.01 L477.71,270.37 L478.38,273.76 L479.05,277.18 L479.72,280.63 L480.39,284.11 L481.06,287.62 L481.72,291.15 L482.38,294.72 L483.04,298.31 L483.70,301.93 L484.35,305.58 L485.00,309.26 L485.65,312.96 L486.29,316.70 L486.93,320.46 L487.57,324.25 L488.20,328.07 L488.83,331.92 L489.46,335.80 L490.08,339.71 L490.70,343.64 L491.32,347.60 L491.93,351.59 L492.54,355.61 L493.14,359.66 L493.73,363.74 L494.33,367.85 L494.92,371.98 L495.50,376.14 L496.08,380.33 L496.65,384.55 L497.22,388.80 L498.56,398.71"/>
<path stroke="#EA1C24" d="M167.38,398.19 L170.83,388.80 L172.51,384.22 L174.18,379.66 L175.84,375.14 L177.49,370.65 L179.14,366.19 L180.78,361.76 L182.41,357.36 L184.04,352.99 L185.66,348.65 L187.27,344.34 L188.88,340.07 L190.48,335.82 L192.07,331.61 L193.66,327.42 L195.25,323.27 L196.83,319.15 L198.41,315.06 L199.98,311.00 L201.55,306.97 L203.12,302.97 L204.68,299.00 L206.24,295.06 L207.80,291.15 L209.35,287.28 L210.91,283.43 L212.46,279.62 L214.01,275.83 L215.55,272.08 L217.10,268.36 L218.65,264.66 L220.19,261.00 L221.74,257.37 L223.28,253.77 L224.83,250.20 L226.37,246.67 L227.92,243.16 L229.46,239.68 L231.00,236.24 L232.55,232.82 L234.09,229.44 L235.63,226.09 L237.17,222.76 L238.71,219.47 L240.26,216.21 L241.80,212.98 L243.34,209.78 L244.88,206.61 L246.42,203.47 L247.96,200.37 L249.50,197.29 L251.04,194.24 L252.58,191.23 L254.12,188.24 L255.66,185.29 L257.20,182.37 L258.74,179.48 L260.28,176.62 L261.82,173.79 L263.35,170.99 L264.89,168.22 L266.43,165.48 L267.97,162.77 L269.51,160.09 L271.05,157.45 L272.59,154.83 L274.13,152.25 L275.67,149.70 L277.21,147.17 L278.75,144.68 L280.29,142.22 L281.83,139.79 L283.37,137.39 L284.91,135.02 L286.45,132.68 L287.99,130.38 L289.53,128.10 L291.07,125.85 L292.61,123.64 L294.15,121.45 L295.69,119.30 L297.23,117.18 L298.77,115.09 L300.31,113.02 L301.85,110.99 L303.39,108.99 L304.94,107.03 L306.48,105.09 L308.02,103.18 L309.56,101.30 L311.11,99.46 L312.65,97.64 L314.19,95.86 L315.74,94.10 L317.28,92.38 L318.83,90.69 L320.37,89.03 L321.92,87.40 L323.46,85.80 L325.01,84.23 L326.56,82.69 L328.10,81.18 L329.65,79.71 L331.20,78.26 L332.74,76.85 L334.29,75.46 L335.84,74.11 L337.39,72.78 L338.94,71.49 L340.49,70.23 L342.04,69.00 L343.59,67.80 L345.14,66.63 L346.69,65.49 L348.25,64.39 L349.80,63.31 L351.35,62.26 L352.91,61.25 L354.46,60.26 L356.02,59.31 L357.57,58.39 L359.13,57.49 L360.69,56.63 L362.24,55.80 L363.80,55.00 L365.36,54.23 L366.92,53.49 L368.48,52.79 L370.04,52.11 L371.60,51.46 L373.16,50.85 L374.73,50.26 L376.29,49.71 L377.85,49.19 L379.42,48.70 L380.98,48.23 L382.55,47.80 L384.11,47.40 L385.68,47.03 L387.25,46.70 L388.82,46.39 L390.39,46.11 L391.96,45.87 L393.53,45.65 L395.10,45.47 L396.68,45.31 L398.25,45.19 L399.82,45.10 L401.40,45.03 L402.98,45.00 L404.55,45.00 L406.13,45.03 L407.71,45.10 L409.29,45.19 L410.87,45.31 L412.45,45.47 L414.03,45.65 L415.62,45.87 L417.20,46.11 L418.79,46.39 L420.37,46.70 L421.96,47.03 L423.55,47.40 L425.14,47.80 L426.73,48.23 L428.32,48.70 L429.91,49.19 L431.50,49.71 L433.10,50.26 L434.69,50.85 L436.29,51.46 L437.88,52.11 L439.48,52.79 L441.08,53.49 L442.68,54.23 L444.28,55.00 L445.89,55.80 L447.49,56.63 L449.10,57.49 L450.70,58.39 L452.31,59.31 L453.92,60.26 L455.52,61.25 L457.13,62.26 L458.74,63.31 L460.35,64.39 L461.96,65.49 L463.57,66.63 L465.18,67.80 L466.79,69.00 L468.40,70.23 L470.00,71.49 L471.61,72.78 L473.22,74.11 L474.82,75.46 L476.43,76.85 L478.03,78.26 L479.63,79.71 L481.23,81.18 L482.83,82.69 L484.43,84.23 L486.03,85.80 L487.62,87.40 L489.21,89.03 L490.80,90.69 L492.39,92.38 L493.98,94.10 L495.56,95.86 L497.14,97.64 L498.72,99.46 L500.29,101.30 L501.86,103.18 L503.43,105.09 L505.00,107.03 L506.56,108.99 L508.12,110.99 L509.67,113.02 L511.22,115.09 L512.77,117.18 L514.32,119.30 L515.86,121.45 L517.41,123.64 L518.95,125.85 L520.49,128.10 L522.03,130.38 L523.56,132.68 L525.10,135.02 L526.63,137.39 L528.17,139.79 L529.70,142.22 L531.23,144.68 L532.77,147.17 L534.30,149.70 L535.83,152.25 L537.37,154.83 L538.90,157.45 L540.44,160.09 L541.98,162.77 L543.52,165.48 L545.06,168.22 L546.60,170.99 L548.15,173.79 L549.69,176.62 L551.24,179.48 L552.80,182.37 L554.35,185.29 L555.91,188.24 L557.47,191.23 L559.04,194.24 L560.61,197.29 L562.18,200.37 L563.76,203.47 L565.34,206.61 L566.92,209.78 L568.51,212.98 L570.11,216.21 L571.71,219.47 L573.32,222.76 L574.93,226.09 L576.54,229.44 L578.16,232.82 L579.79,236.24 L581.41,239.68 L583.04,243.16 L584.68,246.67 L586.32,250.20 L587.96,253.77 L589.61,257.37 L591.26,261.00 L592.91,264.66 L594.57,268.36 L596.23,272.08 L597.89,275.83 L599.56,279.62 L601.22,283.43 L602.90,287.28 L604.57,291.15 L606.24,295.06 L607.92,299.00 L609.60,302.97 L611.28,306.97 L612.96,311.00 L614.65,315.06 L616.34,319.15 L618.02,323.27 L619.71,327.42 L621.40,331.61 L623.09,335.82 L624.79,340.07 L626.48,344.34 L628.17,348.65 L629.87,352.99 L631.56,357.36 L633.26,361.76 L634.95,366.19 L636.65,370.65 L638.34,375.14 L640.04,379.66 L641.73,384.22 L643.43,388.80 L646.92,398.17"/>
<path stroke="#0B5A7E" d="M416.17,398.07 L419.92,388.80 L421.45,385.02 L422.97,381.27 L424.48,377.54 L425.99,373.84 L427.49,370.16 L428.99,366.51 L430.49,362.88 L431.98,359.28 L433.47,355.71 L434.95,352.15 L436.43,348.63 L437.90,345.13 L439.37,341.66 L440.84,338.21 L442.30,334.78 L443.76,331.39 L445.22,328.01 L446.67,324.66 L448.12,321.34 L449.57,318.05 L451.01,314.77 L452.46,311.53 L453.90,308.31 L455.33,305.11 L456.77,301.94 L458.20,298.80 L459.63,295.68 L461.06,292.58 L462.49,289.52 L463.92,286.47 L465.34,283.45 L466.77,280.46 L468.19,277.50 L469.61,274.55 L471.03,271.64 L472.45,268.75 L473.87,265.88 L475.29,263.04 L476.71,260.23 L478.13,257.44 L479.55,254.67 L480.97,251.93 L482.39,249.22 L483.81,246.53 L485.23,243.87 L486.65,241.23 L488.07,238.62 L489.50,236.03 L490.92,233.47 L492.35,230.93 L493.77,228.42 L495.20,225.94 L496.63,223.48 L498.06,221.04 L499.50,218.64 L500.93,216.25 L502.37,213.89 L503.81,211.56 L505.25,209.25 L506.70,206.97 L508.14,204.71 L509.59,202.48 L511.04,200.27 L512.50,198.09 L513.95,195.94 L515.41,193.81 L516.86,191.70 L518.32,189.62 L519.79,187.57 L521.25,185.54 L522.71,183.54 L524.18,181.56 L525.64,179.61 L527.11,177.68 L528.58,175.78 L530.05,173.90 L531.52,172.05 L532.99,170.22 L534.46,168.42 L535.93,166.65 L537.40,164.90 L538.88,163.17 L540.35,161.47 L541.82,159.80 L543.30,158.15 L544.77,156.53 L546.25,154.93 L547.72,153.36 L549.19,151.81 L550.67,150.29 L552.14,148.79 L553.61,147.32 L555.08,145.88 L556.56,144.46 L558.03,143.06 L559.50,141.69 L560.97,140.35 L562.44,139.03 L563.91,137.74 L565.38,136.47 L566.85,135.23 L568.32,134.01 L569.78,132.82 L571.25,131.65 L572.72,130.51 L574.18,129.39 L575.65,128.30 L577.11,127.24 L578.57,126.20 L580.04,125.18 L581.50,124.19 L582.96,123.23 L584.42,122.29 L585.88,121.38 L587.34,120.49 L588.80,119.63 L590.25,118.79 L591.71,117.98 L593.17,117.20 L594.62,116.43 L596.07,115.70 L597.52,114.99 L598.98,114.30 L600.43,113.65 L601.87,113.01 L603.32,112.40 L604.77,111.82 L606.21,111.26 L607.66,110.73 L609.10,110.22 L610.54,109.74 L611.98,109.28 L613.42,108.85 L614.86,108.45 L616.30,108.07 L617.73,107.71 L619.17,107.38 L620.60,107.08 L622.03,106.80 L623.46,106.54 L624.89,106.32 L626.31,106.11 L627.73,105.94 L629.16,105.78 L630.57,105.66 L631.99,105.56 L633.41,105.48 L634.82,105.43 L636.23,105.40 L637.63,105.40 L639.04,105.43 L640.44,105.48 L641.84,105.56 L643.23,105.66 L644.62,105.78 L646.01,105.94 L647.40,106.11 L648.78,106.32 L650.16,106.54 L651.53,106.80 L652.90,107.08 L654.27,107.38 L655.63,107.71 L656.99,108.07 L658.35,108.45 L659.70,108.85 L661.05,109.28 L662.39,109.74 L663.73,110.22 L665.07,110.73 L666.40,111.26 L667.73,111.82 L669.05,112.40 L670.38,113.01 L671.70,113.65 L673.02,114.30 L674.33,114.99 L675.64,115.70 L676.95,116.43 L678.26,117.20 L679.57,117.98 L680.87,118.79 L682.17,119.63 L683.47,120.49 L684.77,121.38 L686.06,122.29 L687.36,123.23 L688.65,124.19 L689.94,125.18 L691.23,126.20 L692.52,127.24 L693.81,128.30 L695.09,129.39 L696.38,130.51 L697.66,131.65 L698.95,132.82 L700.23,134.01 L701.51,135.23 L702.80,136.47 L704.08,137.74 L705.36,139.03 L706.64,140.35 L707.93,141.69 L709.21,143.06 L710.49,144.46 L711.78,145.88 L713.06,147.32 L714.34,148.79 L715.63,150.29 L716.91,151.81 L718.19,153.36 L719.47,154.93 L720.75,156.53 L722.03,158.15 L723.31,159.80 L724.59,161.47 L725.86,163.17 L727.13,164.90 L728.40,166.65 L729.67,168.42 L730.94,170.22 L732.20,172.05 L733.46,173.90 L734.72,175.78 L735.97,177.68 L737.22,179.61 L738.47,181.56 L739.72,183.54 L740.96,185.54 L742.19,187.57 L743.43,189.62 L744.65,191.70 L745.88,193.81 L747.10,195.94 L748.31,198.09 L749.52,200.27 L750.72,202.48 L751.92,204.71 L753.11,206.97 L754.30,209.25 L755.48,211.56 L756.66,213.89 L757.83,216.25 L758.99,218.64 L760.15,221.04 L761.30,223.48 L762.45,225.94 L763.59,228.42 L764.73,230.93 L765.86,233.47 L766.99,236.03 L768.12,238.62 L769.24,241.23 L770.36,243.87 L771.47,246.53 L772.59,249.22 L773.70,251.93 L774.81,254.67 L775.91,257.44 L777.01,260.23 L778.12,263.04 L779.22,265.88 L780.32,268.75 L781.41,271.64 L782.51,274.55 L783.61,277.50 L784.71,280.46 L785.81,283.45 L786.90,286.47 L788.00,289.52 L789.10,292.58 L790.20,295.68 L791.30,298.80 L792.41,301.94 L793.51,305.11 L794.62,308.31 L795.73,311.53 L796.84,314.77 L797.96,318.05 L799.07,321.34 L800.20,324.66 L801.32,328.01 L802.45,331.39 L803.58,334.78 L804.72,338.21 L805.86,341.66 L807.01,345.13 L808.16,348.63 L809.32,352.15 L810.48,355.71 L811.65,359.28 L812.82,362.88 L814.01,366.51 L815.19,370.16 L816.39,373.84 L817.59,377.54 L818.80,381.27 L820.01,385.02 L821.24,388.80 L824.32,398.31"/>
</g>
<text class="cl" x="106.0" y="53.5" fill="#9B2A22" stroke="#9B2A22">a</text>
<text class="cl" x="103.0" y="132.5" fill="#35A0DB" stroke="#35A0DB">b</text>
<text class="cl" x="205.5" y="51.5" fill="#90CC5E" stroke="#90CC5E">c</text>
<text class="cl" x="258.8" y="85.7" fill="#2B6516" stroke="#2B6516">d</text>
<text class="cl" x="183.0" y="133.5" fill="#38C3F5" stroke="#38C3F5">e</text>
<text class="cl" x="359.8" y="129.8" fill="#EC4FA3" stroke="#EC4FA3">f</text>
<text class="cl" x="410.4" y="124.5" fill="#FDB714" stroke="#FDB714">g</text>
<text class="cl" x="456.0" y="131.5" fill="#5A1458" stroke="#5A1458">h</text>
<text class="cl" x="470.5" y="59.6" fill="#EA1C24" stroke="#EA1C24">i</text>
<text class="cl" x="712.5" y="130.0" fill="#0B5A7E" stroke="#0B5A7E">j</text>
<text class="ax" x="2.5" y="42.0" textLength="35.0" lengthAdjust="spacingAndGlyphs">100.0</text>
<text class="ax" x="10.5" y="77.1" textLength="27.0" lengthAdjust="spacingAndGlyphs">99.0</text>
<text class="ax" x="10.5" y="112.2" textLength="27.0" lengthAdjust="spacingAndGlyphs">98.0</text>
<text class="ax" x="10.5" y="147.3" textLength="27.0" lengthAdjust="spacingAndGlyphs">97.0</text>
<text class="ax" x="10.5" y="182.4" textLength="27.0" lengthAdjust="spacingAndGlyphs">96.0</text>
<text class="ax" x="10.5" y="217.5" textLength="27.0" lengthAdjust="spacingAndGlyphs">95.0</text>
<text class="ax" x="10.5" y="252.6" textLength="27.0" lengthAdjust="spacingAndGlyphs">94.0</text>
<text class="ax" x="10.5" y="287.7" textLength="27.0" lengthAdjust="spacingAndGlyphs">93.0</text>
<text class="ax" x="10.5" y="322.8" textLength="27.0" lengthAdjust="spacingAndGlyphs">92.0</text>
<text class="ax" x="10.5" y="357.9" textLength="27.0" lengthAdjust="spacingAndGlyphs">91.0</text>
<text class="ax" x="10.5" y="393.0" textLength="27.0" lengthAdjust="spacingAndGlyphs">90.0</text>
<text class="ax" x="32.9" y="410" textLength="34.5" lengthAdjust="spacingAndGlyphs">1.750</text>
<text class="ax" x="132.3" y="410" textLength="34.5" lengthAdjust="spacingAndGlyphs">1.850</text>
<text class="ax" x="231.7" y="410" textLength="34.5" lengthAdjust="spacingAndGlyphs">1.950</text>
<text class="ax" x="331.1" y="410" textLength="34.5" lengthAdjust="spacingAndGlyphs">2.050</text>
<text class="ax" x="430.6" y="410" textLength="34.5" lengthAdjust="spacingAndGlyphs">2.150</text>
<text class="ax" x="530.0" y="410" textLength="34.5" lengthAdjust="spacingAndGlyphs">2.250</text>
<text class="ax" x="629.4" y="410" textLength="34.5" lengthAdjust="spacingAndGlyphs">2.350</text>
<text class="ax" x="728.9" y="410" textLength="34.5" lengthAdjust="spacingAndGlyphs">2.450</text>
<text class="ax" x="828.3" y="410" textLength="34.5" lengthAdjust="spacingAndGlyphs">2.550</text>
<g class="sw">
<line x1="84.6" y1="436.0" x2="117.0" y2="436.0" stroke="#9B2A22"/>
<line x1="84.6" y1="455.1" x2="117.0" y2="455.1" stroke="#2B6516"/>
<line x1="84.6" y1="474.1" x2="117.0" y2="474.1" stroke="#FDB714"/>
<line x1="84.6" y1="493.1" x2="117.0" y2="493.1" stroke="#0B5A7E"/>
<line x1="349.5" y1="436.0" x2="382.1" y2="436.0" stroke="#1C8AC3"/>
<line x1="349.5" y1="455.1" x2="382.1" y2="455.1" stroke="#38C3F5"/>
<line x1="349.5" y1="474.1" x2="382.1" y2="474.1" stroke="#5A1458"/>
<line x1="614.2" y1="436.0" x2="646.7" y2="436.0" stroke="#90CC5E"/>
<line x1="614.2" y1="455.1" x2="646.7" y2="455.1" stroke="#EC4FA3"/>
<line x1="614.2" y1="474.1" x2="646.7" y2="474.1" stroke="#EA1C24"/>
</g>
<text class="lg" x="121.2" y="439.6" textLength="156.6" lengthAdjust="spacingAndGlyphs">a: 800.0 l/mm (AOI 47.4°)</text>
<text class="lg" x="121.2" y="458.7" textLength="156.6" lengthAdjust="spacingAndGlyphs">d: 909.1 l/mm (AOI 64.2°)</text>
<text class="lg" x="121.2" y="477.7" textLength="156.6" lengthAdjust="spacingAndGlyphs">g: 800.0 l/mm (AOI 55.1°)</text>
<text class="lg" x="121.2" y="496.8" textLength="156.6" lengthAdjust="spacingAndGlyphs">j : 600.2 l/mm (AOI 44.9°)</text>
<text class="lg" x="385.9" y="439.6" textLength="156.6" lengthAdjust="spacingAndGlyphs">b: 800.0 l/mm (AOI 48.8°)</text>
<text class="lg" x="385.9" y="458.7" textLength="156.6" lengthAdjust="spacingAndGlyphs">e: 800.0 l/mm (AOI 52.4°)</text>
<text class="lg" x="385.9" y="477.7" textLength="156.6" lengthAdjust="spacingAndGlyphs">h: 800.0 l/mm (AOI 57.1°)</text>
<text class="lg" x="650.5" y="439.6" textLength="155.9" lengthAdjust="spacingAndGlyphs">c: 600.2 l/mm (AOI 36.4°)</text>
<text class="lg" x="650.5" y="458.7" textLength="154.6" lengthAdjust="spacingAndGlyphs">f: 909.1 l/mm (AOI 68.7°)</text>
<text class="lg" x="650.5" y="477.7" textLength="156.6" lengthAdjust="spacingAndGlyphs">i : 600.2 l/mm (AOI 39.1°)</text>
</svg></body></html>
